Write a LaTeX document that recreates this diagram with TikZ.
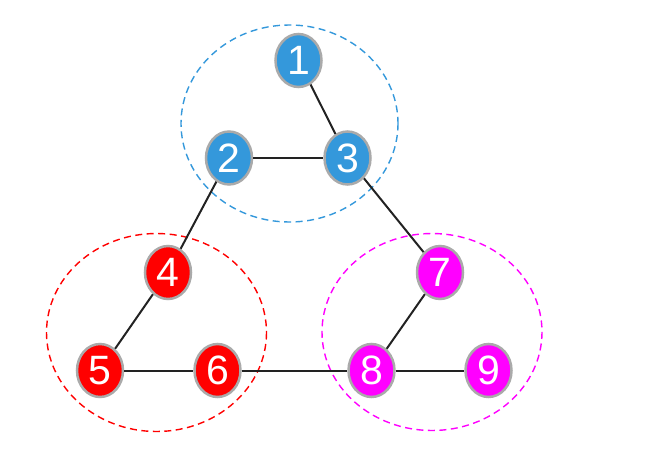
\documentclass[tikz,border=0pt]{standalone}
\usepackage{fontspec}
\setmainfont{Liberation Sans}
\usetikzlibrary{shapes.geometric}
\definecolor{grpblue}{HTML}{3498DB}
\definecolor{grpred}{HTML}{FF0000}
\definecolor{grpmag}{HTML}{FF00FF}
\definecolor{rim}{HTML}{AAAAAA}
\definecolor{ink}{HTML}{222222}

\begin{document}
\begin{tikzpicture}[x=1pt,y=-1pt,
  vert/.style={ellipse,draw=rim,line width=2.5pt,minimum width=46pt,minimum height=53pt,inner sep=0pt,text=white,font=\fontsize{41}{41}\selectfont},
  edge/.style={ink,line width=2pt},
  group/.style={line width=1.4pt,dash pattern=on 7pt off 4.5pt}]
\useasboundingbox (0,0) rectangle (658,460);
% groups
\draw[group,grpblue] (289.5,123.5) ellipse (108.5 and 98.5);
\draw[group,grpred] (156.5,332.5) ellipse (110 and 99);
\draw[group,grpmag] (432,332) ellipse (110 and 98.5);
% vertices
\node[vert,fill=grpblue] (n1) at (298.5,60.5) {1};
\node[vert,fill=grpblue] (n2) at (229,158) {2};
\node[vert,fill=grpblue] (n3) at (347.5,158) {3};
\node[vert,fill=grpred] (n4) at (168,272.5) {4};
\node[vert,fill=grpred] (n5) at (100,370.5) {5};
\node[vert,fill=grpred] (n6) at (217.5,370.5) {6};
\node[vert,fill=grpmag] (n7) at (440,272.5) {7};
\node[vert,fill=grpmag] (n8) at (371.5,370.5) {8};
\node[vert,fill=grpmag] (n9) at (488.5,370.5) {9};
% links
\foreach \a/\b in {n1/n3,n2/n3,n2/n4,n3/n7,n4/n5,n5/n6,n6/n8,n7/n8,n8/n9}
  \draw[edge] (\a) -- (\b);
\end{tikzpicture}
\end{document}
